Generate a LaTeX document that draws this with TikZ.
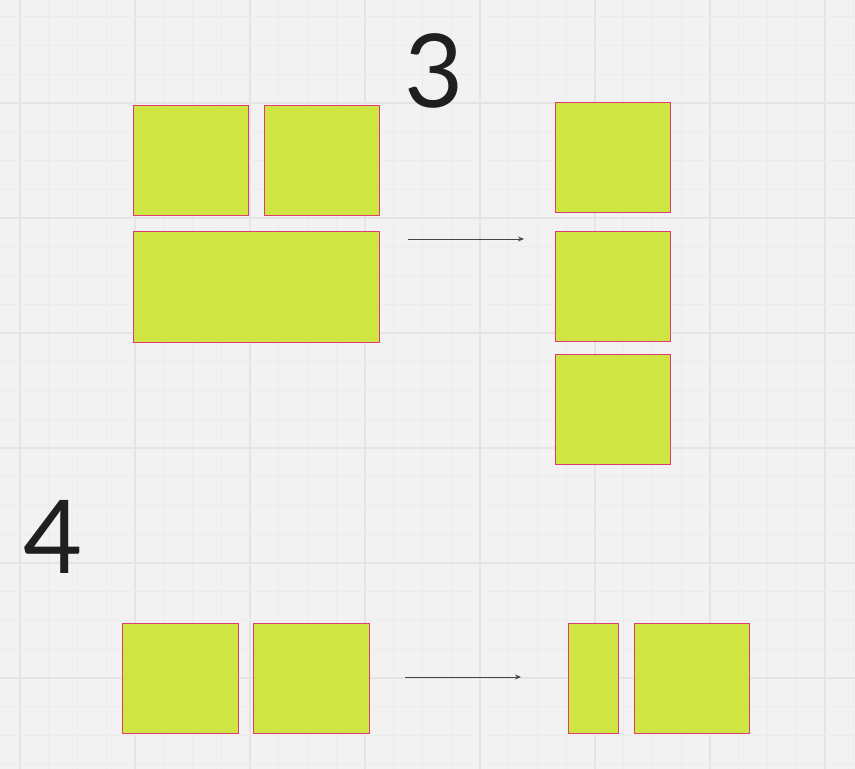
\documentclass[tikz,border=0pt]{standalone}
\usepackage{fontspec}
\setmainfont{Lato}
\usepackage{xcolor}
\usetikzlibrary{arrows.meta,positioning}

\definecolor{bgcol}{HTML}{F2F2F2}
\definecolor{minorcol}{HTML}{ECECEC}
\definecolor{majorcol}{HTML}{E4E4E4}
\definecolor{blkfill}{HTML}{CFE642}
\definecolor{blkline}{HTML}{E03A70}
\definecolor{arrcol}{HTML}{454545}

\begin{document}
\begin{tikzpicture}[x=1pt,y=-1pt,
  blk/.style={draw=blkline, fill=blkfill, line width=0.9pt, inner sep=0pt, outer sep=0pt,
    minimum width=115pt, minimum height=110pt},
  move/.style={draw=arrcol, line width=0.9pt, -{Stealth[length=6pt,width=5pt]}},
  digit/.style={text=black!88, font=\fontsize{102}{102}\selectfont, inner sep=0pt}]
% background and grid
\useasboundingbox (0,0) rectangle (855,769);
\fill[bgcol] (0,0) rectangle (855,769);
\foreach \i in {0,...,29} {
  \pgfmathtruncatemacro{\m}{mod(\i,4)}
  \ifnum\m=0
    \draw[majorcol, line width=1.2pt] (20+28.75*\i,0) -- (20+28.75*\i,769);
  \else
    \draw[minorcol, line width=0.8pt] (20+28.75*\i,0) -- (20+28.75*\i,769);
  \fi
}
\foreach \i in {-7,...,19} {
  \pgfmathtruncatemacro{\m}{mod(\i+8,4)}
  \ifnum\m=0
    \draw[majorcol, line width=1.2pt] (0,218+28.75*\i) -- (855,218+28.75*\i);
  \else
    \draw[minorcol, line width=0.8pt] (0,218+28.75*\i) -- (855,218+28.75*\i);
  \fi
}

% case 3
\node[digit] (three) at (434,71) {3};
\node[blk] (a1) at (190.5,160) {};
\node[blk] (a2) at (321.5,160) {};
\node[blk, minimum width=246pt, minimum height=111pt] (a3) at (256,286.5) {};
\coordinate (s3) at (408,239);
\coordinate (e3) at (524,239);
\draw[move] (s3) -- (e3);
\node[blk] (b1) at (612.5,157) {};
\node[blk] (b2) at (612.5,286) {};
\node[blk] (b3) at (612.5,409) {};

% case 4
\node[digit] (four) at (53,537) {4};
\node[blk, minimum width=116pt] (c1) at (180,678) {};
\node[blk, minimum width=116pt] (c2) at (311,678) {};
\coordinate (s4) at (405,677);
\coordinate (e4) at (521,677);
\draw[move] (s4) -- (e4);
\node[blk, minimum width=50pt] (d1) at (593,678) {};
\node[blk] (d2) at (691.5,678) {};
\end{tikzpicture}
\end{document}
